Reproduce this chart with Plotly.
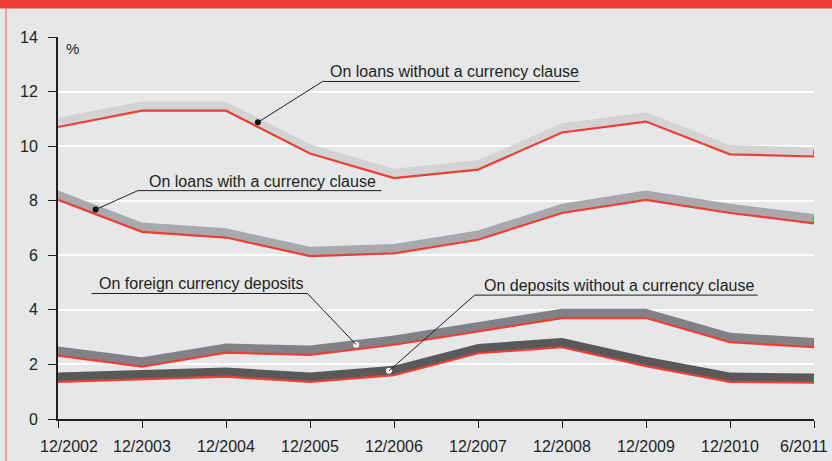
import plotly.graph_objects as go

categories = ["12/2002", "12/2003", "12/2004", "12/2005", "12/2006",
              "12/2007", "12/2008", "12/2009", "12/2010", "6/2011"]

loans_no_clause = [10.7, 11.3, 11.3, 9.73, 8.83, 9.14, 10.5, 10.9, 9.7, 9.62]
loans_clause = [8.03, 6.86, 6.65, 5.97, 6.07, 6.57, 7.55, 8.03, 7.55, 7.17]
fx_deposits = [2.32, 1.92, 2.43, 2.35, 2.72, 3.21, 3.7, 3.7, 2.82, 2.63]
deposits_no_clause = [1.36, 1.45, 1.55, 1.36, 1.61, 2.41, 2.63, 1.94, 1.36, 1.33]

series_names = ["On loans without a currency clause", "On loans with a currency clause",
                "On foreign currency deposits", "On deposits without a currency clause"]
series_values = [loans_no_clause, loans_clause, fx_deposits, deposits_no_clause]
band_colors = ["#d1d3d4", "#a7a9ac", "#808285", "#58595b"]
RED = "#ef3e33"
TEXT = "#231f20"
BG = "#e6e7e8"
THICK = 0.34  # visual ribbon thickness (style)

x = list(range(len(categories)))

fig = go.Figure()

for vals, col in zip(series_values, band_colors):
    top = [v + THICK for v in vals]
    fig.add_trace(go.Scatter(x=x, y=top, mode="lines", line=dict(width=0, color=col),
                             hoverinfo="skip", showlegend=False))
    fig.add_trace(go.Scatter(x=x, y=vals, mode="lines", line=dict(width=0, color=col),
                             fill="tonexty", fillcolor=col, hoverinfo="skip", showlegend=False))
    fig.add_trace(go.Scatter(x=x, y=vals, mode="lines", line=dict(width=2.2, color=RED),
                             hoverinfo="skip", showlegend=False))

# callouts: (series index, dot x position, text x, text y, underline x0, x1, underline y, dot colour)
callouts = [
    (0, 2.38, 3.22, 12.75, 3.15, 6.21, 12.37, "#111111"),
    (1, 0.448, 1.055, 8.70, 0.95, 3.85, 8.37, "#111111"),
    (2, 3.55, 0.46, 4.97, 0.40, 2.97, 4.60, "#ffffff"),
    (3, 3.94, 5.05, 4.89, 4.96, 8.33, 4.54, "#ffffff"),
]

def interp(vals, xp):
    i = min(int(xp), len(vals) - 2)
    f = xp - i
    return vals[i] + f * (vals[i + 1] - vals[i])

shapes = []
for si, dx, tx, ty, ux0, ux1, uy, dcol in callouts:
    vals = series_values[si]
    dy = interp(vals, dx) + THICK / 2
    shapes.append(dict(type="line", xref="x", yref="y", x0=ux0, x1=ux1, y0=uy, y1=uy,
                       line=dict(color=TEXT, width=1)))
    lx = ux0 if abs(dx - ux0) < abs(dx - ux1) else ux1
    shapes.append(dict(type="line", xref="x", yref="y", x0=lx, x1=dx, y0=uy, y1=dy,
                       line=dict(color=TEXT, width=1)))
    fig.add_trace(go.Scatter(x=[dx], y=[dy], mode="markers",
                             marker=dict(size=6, color=dcol, line=dict(width=0)),
                             hoverinfo="skip", showlegend=False))
    fig.add_annotation(x=tx, y=ty, xref="x", yref="y", text=series_names[si],
                       showarrow=False, xanchor="left", yanchor="middle",
                       font=dict(size=16, color=TEXT))

# x tick labels (edge labels pulled inward, as in the original)
for i, lab in enumerate(categories):
    if i == 0:
        anchor, shift = "left", -20
    elif i == len(categories) - 1:
        anchor, shift = "right", 16
    else:
        anchor, shift = "center", 0
    fig.add_annotation(x=x[i], y=0, xref="x", yref="y", text=lab, showarrow=False,
                       xanchor=anchor, yanchor="middle", xshift=shift, yshift=-27,
                       font=dict(size=16, color=TEXT))

# red end caps on the ribbons
for vals in series_values:
    shapes.append(dict(type="line", xref="x", yref="y", x0=x[-1], x1=x[-1],
                       y0=vals[-1], y1=vals[-1] + THICK * 0.7,
                       line=dict(color=RED, width=1.5)))

# frame decorations: red top bar and left border
PW = 832 - 58 - 18
PH = 461 - 37 - 42
shapes.append(dict(type="rect", xref="paper", yref="paper",
                   x0=-1, x1=2, y0=1 + 28.5 / PH, y1=1 + 60 / PH,
                   fillcolor=RED, line=dict(width=0), layer="above"))
shapes.append(dict(type="line", xref="paper", yref="paper",
                   x0=-52 / PW, x1=-52 / PW, y0=-1, y1=1 + 29 / PH,
                   line=dict(color="#f08a80", width=1.5)))

fig.add_annotation(x=0, y=14, xref="x", yref="y", text="%", showarrow=False,
                   xanchor="left", yanchor="top", xshift=6, yshift=-1,
                   font=dict(size=15, color=TEXT))

fig.update_layout(
    width=832, height=461,
    margin=dict(l=58, r=18, t=37, b=42, autoexpand=False),
    paper_bgcolor=BG, plot_bgcolor=BG,
    font=dict(family="Liberation Sans, Arial, sans-serif", color=TEXT, size=16),
    shapes=shapes,
    xaxis=dict(range=[0, 9], tickmode="array", tickvals=x, showticklabels=False,
               showgrid=False, zeroline=False, showline=True, linecolor=TEXT, linewidth=2,
               ticks="outside", ticklen=7, tickwidth=1, tickcolor=TEXT, automargin=False),
    yaxis=dict(range=[0, 14], tickvals=list(range(0, 15, 2)),
               showgrid=True, gridcolor="#ffffff", gridwidth=1.5, zeroline=False,
               showline=True, linecolor=TEXT, linewidth=2, automargin=False,
               ticks="outside", ticklen=8, tickwidth=1, tickcolor=TEXT,
               ticklabelstandoff=7,
               tickfont=dict(size=16, color=TEXT)),
)

fig.write_html("out.html", config={"displayModeBar": False},
               post_script="document.body.style.margin='0px';document.body.style.background='#e6e7e8';")
